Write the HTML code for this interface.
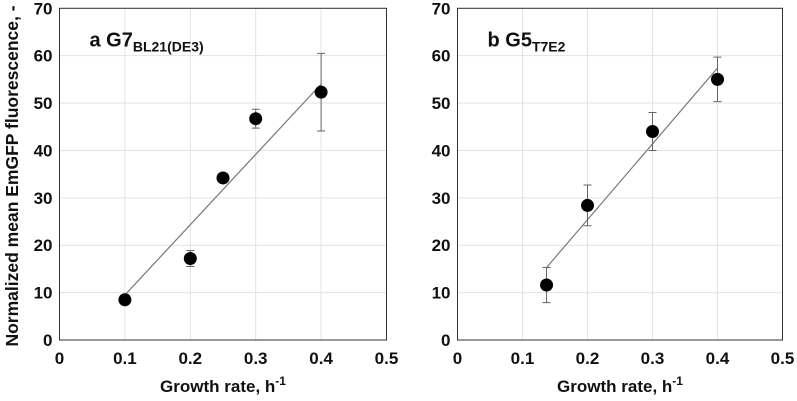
<!DOCTYPE html>
<html><head><meta charset="utf-8"><style>
body{margin:0;background:#fff;}
svg{display:block;font-family:"Liberation Sans",Arial,sans-serif;}
</style></head><body>
<svg id="chart" width="797" height="401"></svg>
<script>
const xTicks=[0,0.1,0.2,0.3,0.4,0.5];
const yTicks=[0,10,20,30,40,50,60,70];
const aX=[0.1,0.2,0.25,0.3,0.4];
const aY=[8.5,17.2,34.2,46.7,52.3];
const aErr=[0.5,1.7,0.5,2.0,8.2];
const aFitX=[0.1,0.4];
const aFitY=[9.5,54.0];
const bX=[0.137,0.2,0.3,0.4];
const bY=[11.6,28.4,44.0,55.0];
const bErr=[3.7,4.3,4.0,4.7];
const bFitX=[0.137,0.4];
const bFitY=[15.3,57.4];

const NS="http://www.w3.org/2000/svg";
const svg=document.getElementById('chart');
function mk(tag,attrs,parent){const e=document.createElementNS(NS,tag);for(const k in attrs)e.setAttribute(k,attrs[k]);(parent||svg).appendChild(e);return e;}

function panel(id,L,R,T,B,xs,ys,errs,fx,fy,label,sub){
  const g=mk('g',{});
  
  
  const X=v=>L+(v-0)/0.5*(R-L);
  const Y=v=>B-(v/70)*(B-T);
  xTicks.forEach(t=>{
    const l=mk('line',{x1:X(t),x2:X(t),y1:T,y2:B,stroke:'#e3e3e3','stroke-width':1},g);
    
    
    const tx=mk('text',{x:X(t),y:B+24,'text-anchor':'middle','font-size':17,'font-weight':'bold',fill:'#111'},g);
    tx.textContent=String(t);
    
    
  });
  yTicks.forEach(t=>{
    const l=mk('line',{x1:L,x2:R,y1:Y(t),y2:Y(t),stroke:'#e3e3e3','stroke-width':1},g);
    
    
    const tx=mk('text',{x:L-7,y:Y(t)+6,'text-anchor':'end','font-size':17,'font-weight':'bold',fill:'#111'},g);
    tx.textContent=String(t);
    
    
  });
  const box=mk('rect',{x:L,y:T,width:R-L,height:B-T,fill:'none',stroke:'#333','stroke-width':1},g);
  
  
  const fit=mk('line',{x1:X(fx[0]),y1:Y(fy[0]),x2:X(fx[1]),y2:Y(fy[1]),stroke:'#777','stroke-width':1.2},g);
  
  
  xs.forEach((x,i)=>{
    const e=errs[i];
    const cx=X(x);
    const eb=mk('path',{d:`M${cx},${Y(ys[i]+e)}V${Y(ys[i]-e)}M${cx-4},${Y(ys[i]+e)}H${cx+4}M${cx-4},${Y(ys[i]-e)}H${cx+4}`,stroke:'#666','stroke-width':1,fill:'none'},g);
    
    
    const c=mk('circle',{cx:cx,cy:Y(ys[i]),r:6.5,fill:'#000'},g);
    
    
  });
  const tl=mk('text',{x:L+30,y:T+38,'font-size':20,'font-weight':'bold',fill:'#111'},g);
  
  
  tl.textContent=label;
  const ts=mk('tspan',{'font-size':14,dy:5},tl);
  ts.textContent=sub;
  const xt=mk('text',{x:(L+R)/2,y:392,'text-anchor':'middle','font-size':17,'font-weight':'bold',fill:'#111'},g);
  
  
  xt.textContent='Growth rate, h';
  const sup=mk('tspan',{'font-size':12,dy:-7},xt);
  sup.textContent='-1';
}
panel('a',59.5,386.5,8.3,340,aX,aY,aErr,aFitX,aFitY,'a G7','BL21(DE3)');
panel('b',457.5,782.5,8.3,340,bX,bY,bErr,bFitX,bFitY,'b G5','T7E2');
const yt=mk('text',{x:0,y:0,transform:'translate(18,176) rotate(-90)','text-anchor':'middle','font-size':17.5,'font-weight':'bold',fill:'#111'});


yt.textContent='Normalized mean EmGFP fluorescence, -';
</script>
</body></html>
